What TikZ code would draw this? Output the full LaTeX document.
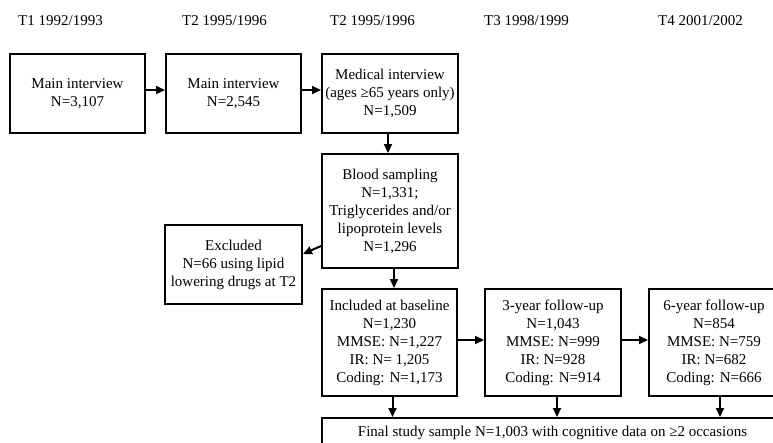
\documentclass[tikz,border=0pt]{standalone}
\usepackage{fontspec}
\setmainfont{Liberation Serif}
\usetikzlibrary{arrows.meta}
\tikzset{
  box/.style={draw, line width=2pt, inner sep=0pt, align=center, anchor=north west,
    font=\fontsize{15}{18}\selectfont},
  head/.style={inner sep=0pt, anchor=base west, font=\fontsize{15}{18}\selectfont},
  arr/.style={line width=2pt, -{Triangle[length=9pt,width=8pt]}}
}
\begin{document}
\begin{tikzpicture}[x=1pt,y=-1pt]
\useasboundingbox (0,0) rectangle (773,442);
\clip (0,0) rectangle (773,442);
\node[head] (h1) at (18,25) {T1 1992/1993};
\node[head] (h2) at (182,25) {T2 1995/1996};
\node[head] (h3) at (330,25) {T2 1995/1996};
\node[head] (h4) at (484,25) {T3 1998/1999};
\node[head] (h5) at (658,25) {T4 2001/2002};

\node[box, minimum width=135pt, minimum height=79pt] (b1) at (9,53) {Main interview\\N=3,107};
\node[box, minimum width=135pt, minimum height=79pt] (b2) at (165,53) {Main interview\\N=2,545};
\node[box, minimum width=136pt, minimum height=79pt] (b3) at (321,53) {Medical interview\\(ages ≥65 years only)\\N=1,509};
\node[box, minimum width=136pt, minimum height=114pt] (blood) at (321,153) {Blood sampling\\N=1,331;\\Triglycerides and/or\\lipoprotein levels\\N=1,296};
\node[box, minimum width=137pt, minimum height=79pt] (excl) at (164,224) {Excluded\\N=66 using lipid\\lowering drugs at T2};
\node[box, minimum width=135pt, minimum height=107pt] (incl) at (321,288) {Included at baseline\\N=1,230\\MMSE: N=1,227\\IR: N= 1,205\\Coding: N=1,173};
\node[box, minimum width=136pt, minimum height=107pt] (fu3) at (484,288) {3-year follow-up\\N=1,043\\MMSE: N=999\\IR: N=928\\Coding: N=914};
\node[box, minimum width=130pt, minimum height=107pt] (fu6) at (648,288) {6-year follow-up\\N=854\\MMSE: N=759\\IR: N=682\\Coding: N=666};
\node[box, minimum width=461pt, minimum height=30pt] (final) at (321,417) {Final study sample N=1,003 with cognitive data on ≥2 occasions};

\draw[arr] ([yshift=3.5pt]b1.east) -- ([yshift=3.5pt]b2.west);
\draw[arr] ([yshift=3.5pt]b2.east) -- ([yshift=3.5pt]b3.west);
\draw[arr] ([xshift=-2pt]b3.south) -- ([xshift=-2pt]blood.north);
\draw[arr] ([yshift=-35pt]blood.west) -- ([yshift=10.5pt]excl.east);
\draw[arr] ([xshift=4pt]blood.south) -- ([xshift=4pt]blood.south |- incl.north);
\draw[arr] ([yshift=2.5pt]incl.east) -- ([yshift=2.5pt]fu3.west);
\draw[arr] ([yshift=2.5pt]fu3.east) -- ([yshift=2.5pt]fu6.west);
\draw[arr] ([xshift=3pt]incl.south) -- ([xshift=3pt]incl.south |- final.north);
\draw[arr] ([xshift=4pt]fu3.south) -- ([xshift=4pt]fu3.south |- final.north);
\draw[arr] ([xshift=6pt]fu6.south) -- ([xshift=6pt]fu6.south |- final.north);
\end{tikzpicture}
\end{document}
